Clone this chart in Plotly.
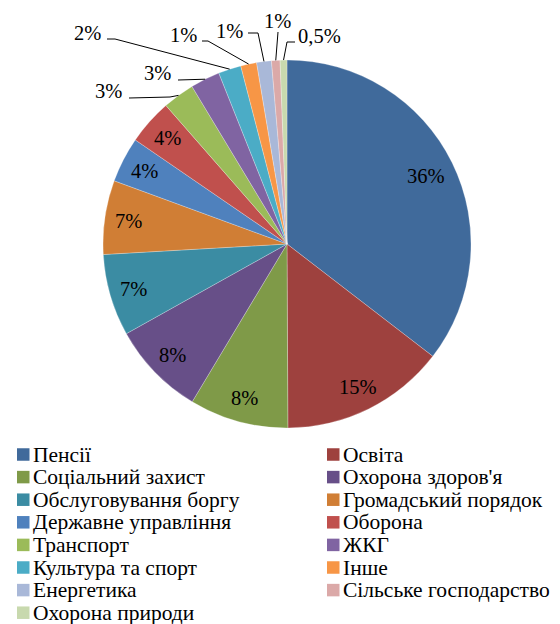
import math
import plotly.graph_objects as go

# ── Data ─────────────────────────────────────────────────────────────────────
categories = ["Пенсії", "Освіта", "Соціальний захист", "Охорона здоров'я",
              "Обслуговування боргу", "Громадський порядок", "Державне управління",
              "Оборона", "Транспорт", "ЖКГ", "Культура та спорт", "Інше",
              "Енергетика", "Сільське господарство", "Охорона природи"]
shares = [35.5, 14.5, 8.7, 8.3, 7.2, 6.5, 4.0, 4.0, 2.8, 2.6, 2.0, 1.4, 1.3, 0.75, 0.6]
share_labels = ["36%", "15%", "8%", "8%", "7%", "7%", "4%", "4%",
                "3%", "3%", "2%", "1%", "1%", "1%", "0,5%"]

colors = ["#406a9b", "#9e413e", "#7f9a48", "#674f88", "#3b8ca3", "#d07e35",
          "#4f81bd", "#c0504d", "#9bbb59", "#8064a2", "#4bacc6", "#f79646",
          "#a9b8d8", "#dba9a8", "#c8d9ae"]

# ── Geometry (pixels of the 560x624 page; the page body adds an 8px margin) ──
OFF = 8
W, H = 544, 616
CX, CY, R = 287, 244, 184
FONT = "Liberation Serif"
INK = "#000000"
LABEL_SIZE = 20.5
LEGEND_SIZE = 21.5


def fx(x):
    return (x - OFF) / W


def fy(y):
    return 1 - (y - OFF) / H


def polar(theta_deg, r):
    t = math.radians(theta_deg)
    return CX + r * math.sin(t), CY - r * math.cos(t)


# outside labels: index -> (label centre, leader points before the slice edge)
outside = {
    8: ((108, 91), [(129, 98), (170, 97)]),
    9: ((157, 73), [(178, 80)]),
    10: ((87, 33), [(107, 39), (115, 39)]),
    11: ((183, 35), [(202, 41), (208, 41)]),
    12: ((229, 31), [(248, 33), (258, 33)]),
    13: ((277, 21), [(278, 32)]),
    14: ((319, 36), [(295, 42), (287, 42)]),
}

fig = go.Figure(go.Pie(
    labels=categories, values=shares,
    sort=False, direction="clockwise", rotation=0,
    marker=dict(colors=colors, line=dict(color="rgba(255,255,255,0.5)", width=0.5)),
    textinfo="none", showlegend=False,
    hovertemplate="%{label}: %{value}<extra></extra>",
    domain=dict(x=[fx(CX - R), fx(CX + R)], y=[fy(CY + R), fy(CY - R)]),
))

annotations = []
shapes = []
total = sum(shares)
cum = 0.0
for i, (v, lab) in enumerate(zip(shares, share_labels)):
    mid = (cum + v / 2) / total * 360
    cum += v
    if i in outside:
        (lx, ly), pts = outside[i]
        ex, ey = polar(mid, R)
        path = "M" + " L".join(f"{fx(px)},{fy(py)}" for px, py in pts + [(ex, ey)])
        shapes.append(dict(type="path", path=path, xref="paper", yref="paper",
                           line=dict(color=INK, width=1)))
    else:
        lx, ly = polar(mid, R * (0.84 if i == 0 else 0.87))
    annotations.append(dict(x=fx(lx), y=fy(ly), xref="paper", yref="paper",
                            text=lab, showarrow=False, xanchor="center", yanchor="middle",
                            font=dict(family=FONT, size=LABEL_SIZE, color=INK)))

# legend (two columns, Excel-style)
LEG_Y0, LEG_DY = 454.5, 22.6
LEG_COLS = [(17, 31), (327, 341)]
SW = 12.5
for i, (name, col) in enumerate(zip(categories, colors)):
    row, c = divmod(i, 2)
    mx, tx = LEG_COLS[c]
    yc = LEG_Y0 + row * LEG_DY
    shapes.append(dict(type="rect", xref="paper", yref="paper",
                       x0=fx(mx), x1=fx(mx + SW), y0=fy(yc + SW / 2), y1=fy(yc - SW / 2),
                       fillcolor=col, line=dict(width=0)))
    annotations.append(dict(x=fx(tx), y=fy(yc), xref="paper", yref="paper",
                            text=name, showarrow=False, xanchor="left", yanchor="middle",
                            font=dict(family=FONT, size=LEGEND_SIZE, color=INK)))

fig.update_layout(
    width=W, height=H, autosize=False,
    margin=dict(l=0, r=0, t=0, b=0),
    paper_bgcolor="white", plot_bgcolor="white",
    font=dict(family=FONT, size=LABEL_SIZE, color=INK),
    annotations=annotations, shapes=shapes,
)

fig.write_html("out.html")
